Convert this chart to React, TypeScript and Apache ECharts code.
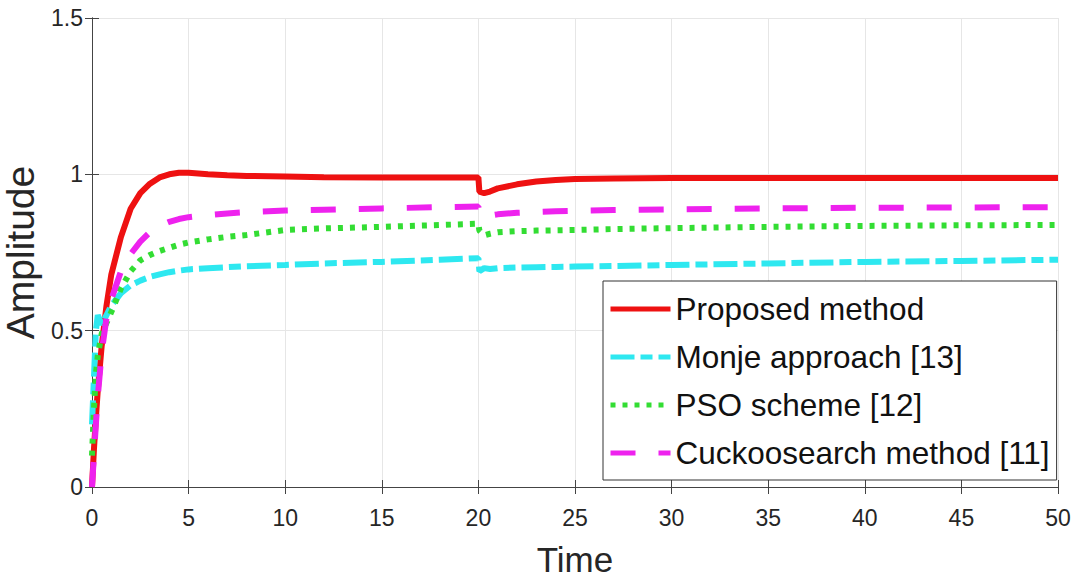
import React, { useEffect, useRef } from "react";
import * as echarts from "echarts";

const time = [0, 0.1, 0.2, 0.3, 0.5, 0.75, 1, 1.5, 2, 2.5, 3, 3.5, 4, 4.5, 5, 6, 7, 8, 10, 12, 15, 18, 20, 20.05, 20.3, 20.6, 21, 22, 23, 24, 25, 27, 30, 35, 40, 45, 50];

const proposed = [0, 0.12, 0.22, 0.31, 0.45, 0.58, 0.68, 0.8, 0.89, 0.94, 0.97, 0.99, 1.0, 1.005, 1.005, 1.0, 0.997, 0.995, 0.993, 0.991, 0.99, 0.99, 0.99, 0.945, 0.94, 0.945, 0.955, 0.968, 0.977, 0.982, 0.985, 0.987, 0.988, 0.988, 0.988, 0.988, 0.988];

const monje = [0.2, 0.35, 0.5, 0.55, 0.52, 0.55, 0.58, 0.62, 0.645, 0.66, 0.672, 0.68, 0.687, 0.692, 0.696, 0.7, 0.703, 0.706, 0.71, 0.715, 0.72, 0.727, 0.732, 0.69, 0.7, 0.697, 0.7, 0.702, 0.703, 0.704, 0.705, 0.707, 0.71, 0.715, 0.72, 0.723, 0.727];

const pso = [0.1, 0.25, 0.36, 0.42, 0.49, 0.525, 0.56, 0.635, 0.69, 0.725, 0.742, 0.755, 0.765, 0.775, 0.782, 0.792, 0.8, 0.806, 0.822, 0.827, 0.832, 0.838, 0.842, 0.82, 0.805, 0.81, 0.815, 0.818, 0.82, 0.821, 0.822, 0.825, 0.828, 0.832, 0.835, 0.837, 0.838];

const cuckoo = [0, 0.1, 0.2, 0.29, 0.43, 0.54, 0.6, 0.69, 0.745, 0.785, 0.815, 0.835, 0.848, 0.857, 0.863, 0.87, 0.875, 0.879, 0.884, 0.887, 0.891, 0.895, 0.897, 0.87, 0.865, 0.868, 0.872, 0.877, 0.88, 0.882, 0.883, 0.886, 0.888, 0.891, 0.893, 0.894, 0.895];

const seriesNames = ["Proposed method", "Monje approach [13]", "PSO scheme [12]", "Cuckoosearch method [11]"];

const xTicks = { min: 0, max: 50, interval: 5 };
const yTicks = { min: 0, max: 1.5, interval: 0.5 };

const FONT = "Liberation Sans, Arial, Helvetica, sans-serif";

function pairs(vals: number[]) {
  return time.map((t, i) => [t, vals[i]]);
}

export default function App() {
  const ref = useRef<HTMLDivElement>(null);
  useEffect(() => {
    if (!ref.current) return;
    const chart = echarts.init(ref.current, undefined, { renderer: "svg" });
    const axisColor = "#444";
    const gridColor = "#e6e6e6";
    chart.setOption({
      animation: false,
      backgroundColor: "#fff",
      textStyle: { fontFamily: FONT },
      grid: { left: 92, right: 17, top: 18, bottom: 97, show: false, outerBoundsMode: "none", containLabel: false },
      xAxis: [
        {
          type: "value",
          ...xTicks,
          name: "Time",
          nameLocation: "middle",
          nameGap: 55,
          nameTextStyle: { fontSize: 35, color: "#262626", fontFamily: FONT },
          axisLine: { show: true, lineStyle: { color: axisColor, width: 1 } },
          axisTick: { show: true, inside: true, length: 7, lineStyle: { color: axisColor } },
          axisLabel: { fontSize: 23, color: "#262626", margin: 19, fontFamily: FONT },
          splitLine: { show: true, lineStyle: { color: gridColor, width: 1 } },
        },
        {
          type: "value",
          ...xTicks,
          position: "top",
          axisLine: { show: true, lineStyle: { color: axisColor, width: 1 } },
          axisTick: { show: true, inside: true, length: 7, lineStyle: { color: axisColor } },
          axisLabel: { show: false },
          splitLine: { show: false },
        },
      ],
      yAxis: [
        {
          type: "value",
          ...yTicks,
          name: "Amplitude",
          nameLocation: "middle",
          nameGap: 39,
          nameTextStyle: { fontSize: 39, color: "#262626", fontFamily: FONT },
          axisLine: { show: true, lineStyle: { color: axisColor, width: 1 } },
          axisTick: { show: true, inside: true, length: 7, lineStyle: { color: axisColor } },
          axisLabel: { fontSize: 23, color: "#262626", margin: 9, fontFamily: FONT },
          splitLine: { show: true, lineStyle: { color: gridColor, width: 1 } },
        },
        {
          type: "value",
          ...yTicks,
          position: "right",
          axisLine: { show: true, lineStyle: { color: axisColor, width: 1 } },
          axisTick: { show: true, inside: true, length: 7, lineStyle: { color: axisColor } },
          axisLabel: { show: false },
          splitLine: { show: false },
        },
      ],
      legend: {
        data: seriesNames,
        orient: "vertical",
        left: 603,
        top: 281,
        itemWidth: 60,
        itemHeight: 14,
        itemGap: 16,
        padding: [12, 7, 11, 5],
        borderColor: "#333",
        borderWidth: 1,
        backgroundColor: "#fff",
        textStyle: { fontSize: 31.5, color: "#111", fontFamily: FONT },
        lineStyle: { width: 5 },
        itemStyle: { opacity: 0 },
      },
      series: [
        {
          name: seriesNames[0],
          type: "line",
          data: pairs(proposed),
          symbol: "none",
          lineStyle: { color: "#ee1111", width: 6, type: "solid" },
          itemStyle: { color: "#ee1111" },
        },
        {
          name: seriesNames[1],
          type: "line",
          data: pairs(monje),
          symbol: "none",
          lineStyle: { color: "#2ee8f0", width: 6, type: [24, 6, 12, 6], cap: "butt" },
          itemStyle: { color: "#2ee8f0" },
        },
        {
          name: seriesNames[2],
          type: "line",
          data: pairs(pso),
          symbol: "none",
          lineStyle: { color: "#33dd33", width: 6, type: [5, 7], cap: "butt" },
          itemStyle: { color: "#33dd33" },
        },
        {
          name: seriesNames[3],
          type: "line",
          data: pairs(cuckoo),
          symbol: "none",
          lineStyle: { color: "#ee22ee", width: 6, type: [25, 23], cap: "butt" },
          itemStyle: { color: "#ee22ee" },
        },
      ],
    });
    return () => chart.dispose();
  }, []);
  return <div ref={ref} style={{ width: 1075, height: 584, position: "absolute", left: 0, top: 0 }} />;
}
